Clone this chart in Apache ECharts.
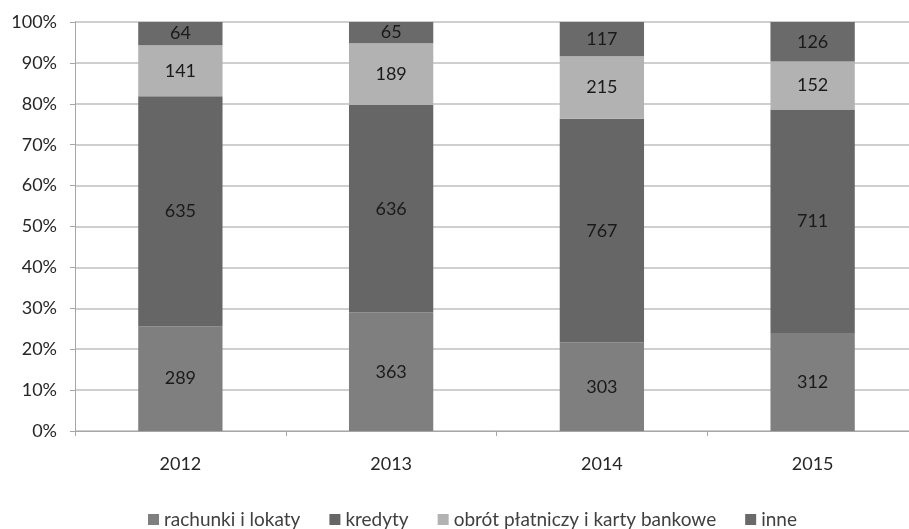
<!DOCTYPE html>
<html><head><meta charset="utf-8">
<script src="https://cdn.jsdelivr.net/npm/echarts@6/dist/echarts.min.js"></script>
<style>html,body{margin:0;padding:0;background:#fff;overflow:hidden}#c{width:909px;height:529px}</style>
</head><body><div id="c"></div>
<script>
const categories = ['2012', '2013', '2014', '2015'];
const rachunki = [289, 363, 303, 312];
const kredyty = [635, 636, 767, 711];
const obrot = [141, 189, 215, 152];
const inne = [64, 65, 117, 126];
const seriesNames = ['rachunki i lokaty', 'kredyty', 'obrót płatniczy i karty bankowe', 'inne'];
const colors = ['#7f7f7f', '#666666', '#b2b2b2', '#6a6a6a'];

const raw = [rachunki, kredyty, obrot, inne];
const totals = categories.map((_, i) => raw.reduce((s, a) => s + a[i], 0));
const font = 'Lato, "Open Sans", sans-serif';

const series = raw.map((arr, k) => ({
  name: seriesNames[k],
  type: 'bar',
  stack: 'total',
  barWidth: '40%',
  itemStyle: { color: colors[k] },
  label: {
    show: true, position: 'inside', color: '#1a1a1a', fontSize: 18, fontFamily: font,
    formatter: p => String(arr[p.dataIndex])
  },
  data: arr.map((v, i) => v / totals[i] * 100)
}));

const chart = echarts.init(document.getElementById('c'), null, { renderer: 'canvas' });
chart.setOption({
  animation: false,
  color: colors,
  grid: { left: 75, width: 843, top: 22, height: 409, containLabel: false, outerBoundsMode: 'none' },
  legend: {
    top: 505, left: 143, icon: 'rect', itemWidth: 11, itemHeight: 11, itemGap: 29,
    textStyle: { color: '#404040', fontSize: 19, fontFamily: font }
  },
  xAxis: {
    type: 'category', data: categories,
    axisLine: { lineStyle: { color: '#a6a6a6', width: 1 } },
    axisTick: { show: true, length: 5, lineStyle: { color: '#a6a6a6' } },
    axisLabel: { color: '#262626', fontSize: 18, fontFamily: font, margin: 24 }
  },
  yAxis: {
    type: 'value', min: 0, max: 100, interval: 10,
    axisLine: { show: true, lineStyle: { color: '#a6a6a6' } },
    axisTick: { show: true, length: 5, lineStyle: { color: '#a6a6a6' } },
    splitLine: { lineStyle: { color: '#bfbfbf', width: 1.5 } },
    axisLabel: { color: '#262626', fontSize: 18, fontFamily: font, margin: 18, formatter: '{value}%' }
  },
  series: series
});
</script></body></html>
